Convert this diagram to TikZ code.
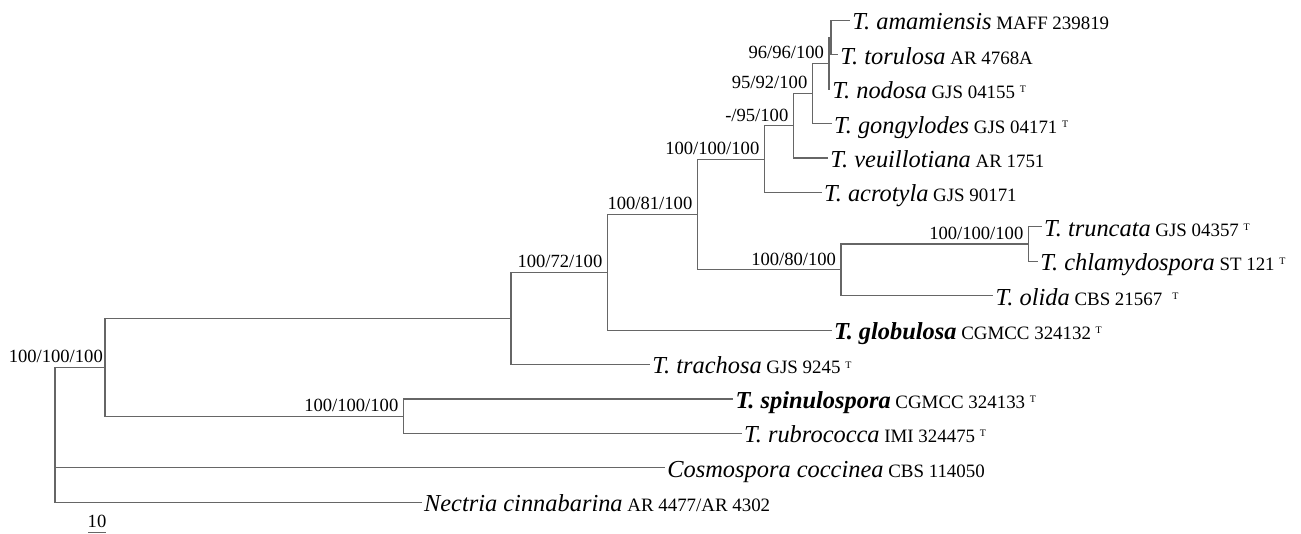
\documentclass[tikz,border=0pt]{standalone}
\usepackage{fontspec}
\setmainfont{Liberation Serif}

\newcommand{\sname}[1]{{\fontsize{12.2}{14}\selectfont\itshape #1}}
\newcommand{\bname}[1]{{\fontsize{12.2}{14}\selectfont\bfseries\itshape #1}}
\newcommand{\typemark}{\raisebox{2.9pt}{\fontsize{5}{6}\selectfont T}}

\begin{document}
\begin{tikzpicture}[
  x=0.5pt, y=-0.5pt,
  branch/.style  = {draw=black!60, line width=0.6pt},
  taxon/.style   = {anchor=base west, inner sep=1pt, yshift=-4.7pt,
                    font=\fontsize{9.45}{11}\selectfont},
  support/.style = {anchor=base east, inner sep=0pt,
                    xshift=-2.3pt, yshift=2.3pt,
                    font=\fontsize{9.3}{11}\selectfont}
]
\useasboundingbox (0,0) rectangle (1301,534);

%── Internal nodes ───────────────────────────────────────────────
\coordinate (Nsub)  at (831,   37.7);
\coordinate (Ntop)  at (829,   63.5);
\coordinate (N7)    at (812.3, 93.6);
\coordinate (N6)    at (793.3, 125.9);
\coordinate (N5)    at (764.3, 159.2);
\coordinate (N9)    at (1028.3,244.1);
\coordinate (N8)    at (841,   269.9);
\coordinate (N4)    at (697.3, 214.5);
\coordinate (N3)    at (607.3, 272.3);
\coordinate (N2)    at (511,   318.4);
\coordinate (Nspin) at (403.3, 416.1);
\coordinate (N1)    at (105,   367.2);
\coordinate (R)     at (55,    434.7);

%── Leaf tips ────────────────────────────────────────────────────
\coordinate (amam) at (850,    20.5);
\coordinate (toru) at (838,    54.9);
\coordinate (nodo) at (830,    89.3);
\coordinate (gong) at (831.7,  123.7);
\coordinate (veui) at (828,    158.1);
\coordinate (acro) at (821.7,  192.5);
\coordinate (trun) at (1041.7, 226.9);
\coordinate (chla) at (1038,   261.3);
\coordinate (olid) at (993.3,  295.7);
\coordinate (glob) at (831.7,  330.1);
\coordinate (trac) at (650,    364.5);
\coordinate (spin) at (733.3,  398.9);
\coordinate (rubr) at (741.7,  433.3);
\coordinate (cosm) at (665,    467.7);
\coordinate (nect) at (421.7,  502.1);

%── Taxon labels ─────────────────────────────────────────────────
\node[taxon] (amamT) at (amam) {\sname{T. amamiensis} MAFF 239819};
\node[taxon] (toruT) at (toru) {\sname{T. torulosa} AR 4768A};
\node[taxon] (nodoT) at (nodo) {\sname{T. nodosa} GJS 04155 \typemark};
\node[taxon] (gongT) at (gong) {\sname{T. gongylodes} GJS 04171 \typemark};
\node[taxon] (veuiT) at (veui) {\sname{T. veuillotiana} AR 1751};
\node[taxon] (acroT) at (acro) {\sname{T. acrotyla} GJS 90171};
\node[taxon] (trunT) at (trun) {\sname{T. truncata} GJS 04357 \typemark};
\node[taxon] (chlaT) at (chla) {\sname{T. chlamydospora} ST 121 \typemark};
\node[taxon] (olidT) at (olid) {\sname{T. olida} CBS 21567\hspace{5pt}\typemark};
\node[taxon] (globT) at (glob) {\bname{T. globulosa} CGMCC 324132 \typemark};
\node[taxon] (tracT) at (trac) {\sname{T. trachosa} GJS 9245 \typemark};
\node[taxon] (spinT) at (spin) {\bname{T. spinulospora} CGMCC 324133 \typemark};
\node[taxon] (rubrT) at (rubr) {\sname{T. rubrococca} IMI 324475 \typemark};
\node[taxon] (cosmT) at (cosm) {\sname{Cosmospora coccinea} CBS 114050};
\node[taxon] (nectT) at (nect) {\sname{Nectria cinnabarina} AR 4477/AR 4302};

%── Branches ─────────────────────────────────────────────────────
\draw[branch] (Nsub) |- (amam);
\draw[branch] (Nsub) |- (toru);
\draw[branch] (Ntop) |- (Nsub);
\draw[branch] (Ntop) |- (nodo);
\draw[branch] (N7) |- (Ntop);
\draw[branch] (N7) |- (gong);
\draw[branch] (N6) |- (N7);
\draw[branch] (N6) |- (veui);
\draw[branch] (N5) |- (N6);
\draw[branch] (N5) |- (acro);
\draw[branch] (N9) |- (trun);
\draw[branch] (N9) |- (chla);
\draw[branch] (N8) |- (N9);
\draw[branch] (N8) |- (olid);
\draw[branch] (N4) |- (N5);
\draw[branch] (N4) |- (N8);
\draw[branch] (N3) |- (N4);
\draw[branch] (N3) |- (glob);
\draw[branch] (N2) |- (N3);
\draw[branch] (N2) |- (trac);
\draw[branch] (Nspin) |- (spin);
\draw[branch] (Nspin) |- (rubr);
\draw[branch] (N1) |- (N2);
\draw[branch] (N1) |- (Nspin);
\draw[branch] (R) |- (N1);
\draw[branch] (R) |- (cosm);
\draw[branch] (R) |- (nect);

%── Support values ───────────────────────────────────────────────
\node[support] (NtopS)  at (Ntop)  {96/96/100};
\node[support] (N7S)    at (N7)    {95/92/100};
\node[support] (N6S)    at (N6)    {-/95/100};
\node[support] (N5S)    at (N5)    {100/100/100};
\node[support] (N9S)    at (N9)    {100/100/100};
\node[support] (N8S)    at (N8)    {100/80/100};
\node[support] (N4S)    at (N4)    {100/81/100};
\node[support] (N3S)    at (N3)    {100/72/100};
\node[support] (NspinS) at (Nspin) {100/100/100};
\node[support, xshift=1.4pt] (N1S) at (N1) {100/100/100};

%── Scale bar ────────────────────────────────────────────────────
\coordinate (sbL) at (88,  532.5);
\coordinate (sbR) at (106, 532.5);
\draw[branch] (sbL) -- (sbR);
\node[anchor=base, inner sep=0pt, font=\fontsize{9.3}{11}\selectfont]
  (sbT) at (97, 527.5) {10};

\end{tikzpicture}
\end{document}
